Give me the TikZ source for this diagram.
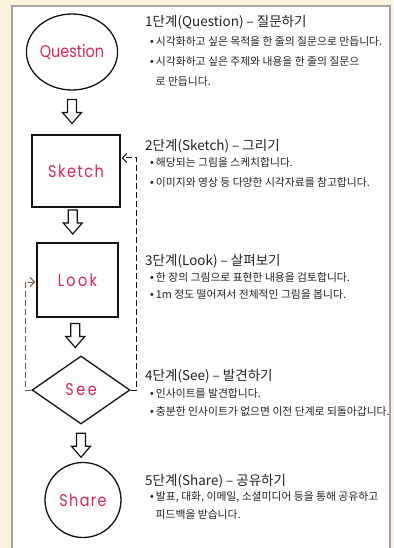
\documentclass[tikz,border=0pt]{standalone}
\usepackage{fontspec}
\usepackage{graphicx}
\setmainfont{Liberation Sans}
\newfontfamily\krfont{Noto Sans CJK KR}
\newfontfamily\handfont[FakeStretch=0.85]{Poppins}
\usetikzlibrary{shapes.geometric,arrows.meta,calc}
\definecolor{bgbeige}{RGB}{253,242,222}
\definecolor{panelline}{RGB}{165,165,165}
\definecolor{inkred}{RGB}{215,38,92}
\definecolor{ink}{RGB}{22,18,18}
\definecolor{txt}{RGB}{35,35,35}
\definecolor{brownink}{RGB}{125,85,65}
\begin{document}
\begin{tikzpicture}[x=1pt,y=-1pt,
  shapeline/.style={draw=ink, line width=1.3pt, inner sep=0pt, text=inkred},
  handlbl/.style={font=\handfont\fontsize{17}{17}\selectfont},
  ttl/.style={anchor=base west, inner sep=0pt, text=txt, font=\krfont\fontsize{13.5}{15}\selectfont},
  bul/.style={anchor=base west, inner sep=0pt, text=txt, font=\krfont\fontsize{10.8}{12}\selectfont},
  loopline/.style={line width=1pt, dash pattern=on 6pt off 3pt, -{Straight Barb[length=4.5pt,width=9pt]}},
  downarr/.pic={\draw[ink, line width=1.2pt, line join=miter, fill=white]
     (-4.5,-12) -- (4.5,-12) -- (4.5,1) -- (9.5,1) -- (0,12) -- (-9.5,1) -- (-4.5,1) -- cycle;}
]
\fill[bgbeige] (0,0) rectangle (393,548);
\useasboundingbox (0,0) rectangle (393,548);
\fill[white] (12,6) rectangle (390,548);
\draw[panelline, line width=1.2pt] (12,548) -- (12,6) -- (390,6) -- (390,548);

% flow shapes
\node[shapeline, ellipse, minimum width=72pt, minimum height=76pt, handlbl] (q) at (72,52) {Question};
\node[shapeline, rectangle, minimum width=88pt, minimum height=72pt, handlbl] (s) at (76,171) {\addfontfeatures{LetterSpace=9}Sketch\hspace{12pt}};
\node[shapeline, rectangle, minimum width=81pt, minimum height=74pt, handlbl] (l) at (77.5,280) {\addfontfeatures{LetterSpace=14}Look\hspace{9pt}};
\node[shapeline, diamond, minimum width=98pt, minimum height=68pt, aspect=1.44, handlbl] (e) at (81,390) {\addfontfeatures{LetterSpace=15}See\hspace{12pt}};
\node[shapeline, ellipse, minimum width=76pt, minimum height=75pt, handlbl] (h) at (83,500) {\addfontfeatures{LetterSpace=8}Share\hspace{4pt}};

% block arrows between steps
\pic at ($(q.south)!0.5!(s.north)+(-2,-1)$) {downarr};
\pic at ($(s.south)!0.5!(l.north)+(-4,-3)$) {downarr};
\pic at ($(l.south)!0.5!(e.north)+(-4,-1)$) {downarr};
\pic at ($(e.south)!0.5!(h.north)+(-1,2)$) {downarr};

% feedback loops
\draw[loopline, ink] (e.east) -- ++(6,0) |- ([yshift=13pt,xshift=1pt]s.east);
\draw[loopline, brownink] (e.west) -- ++(-6,0) |- ([yshift=-2pt,xshift=-1pt]l.west);

% step 1
\node[ttl] (t1) at (145,27) {1단계(Question) – 질문하기};
\node[bul] (b11) at (150,46) {{\rmfamily •}\hspace{2pt}시각화하고 싶은 목적을 한 줄의 질문으로 만듭니다.};
\node[bul] (b12) at (150,66) {{\rmfamily •}\hspace{2pt}시각화하고 싶은 주제와 내용을 한 줄의 질문으};
\node[bul] (b12c) at (155.5,86) {로 만듭니다.};
% step 2
\node[ttl] (t2) at (145,151) {2단계(Sketch) – 그리기};
\node[bul] (b21) at (150,167) {{\rmfamily •}\hspace{2pt}해당되는 그림을 스케치합니다.};
\node[bul] (b22) at (150,186) {{\rmfamily •}\hspace{2pt}이미지와 영상 등 다양한 시각자료를 참고합니다.};
% step 3
\node[ttl] (t3) at (145,265) {3단계(Look) – 살펴보기};
\node[bul] (b31) at (150,281) {{\rmfamily •}\hspace{2pt}한 장의 그림으로 표현한 내용을 검토합니다.};
\node[bul] (b32) at (150,298) {{\rmfamily •}\hspace{2pt}1m 정도 떨어져서 전체적인 그림을 봅니다.};
% step 4
\node[ttl] (t4) at (145,380) {4단계(See) – 발견하기};
\node[bul] (b41) at (150,397) {{\rmfamily •}\hspace{2pt}인사이트를 발견합니다.};
\node[bul] (b42) at (150,415) {{\rmfamily •}\hspace{2pt}충분한 인사이트가 없으면 이전 단계로 되돌아갑니다.};
% step 5
\node[ttl] (t5) at (145,485) {5단계(Share) – 공유하기};
\node[bul] (b51) at (150,500) {{\rmfamily •}\hspace{2pt}발표, 대화, 이메일, 소셜미디어 등을 통해 공유하고};
\node[bul] (b51c) at (155.5,518) {피드백을 받습니다.};
\end{tikzpicture}
\end{document}
